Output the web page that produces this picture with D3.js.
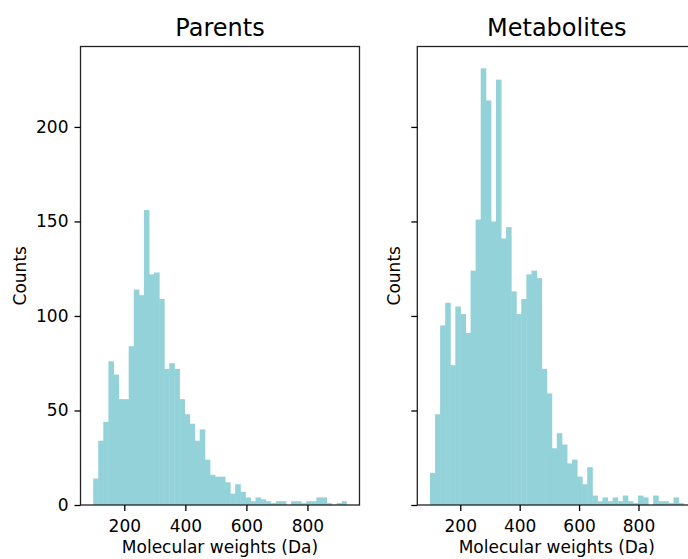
<!DOCTYPE html>
<html lang="en">
	<head>
		<meta charset="utf-8">
		<title>Molecular weight histograms</title>
		<script type="text/javascript" src="https://cdn.jsdelivr.net/npm/d3@7/dist/d3.min.js"></script>
		<style type="text/css">
body {
  margin: 0;
  background: #fff;
}
svg {
  display: block;
  font-family: "DejaVu Sans", sans-serif;
}
.title {
  font-size: 24px;
  fill: #000;
}
.label {
  font-size: 17px;
  fill: #000;
}
.axis text {
  font-family: "DejaVu Sans", sans-serif;
  font-size: 17px;
  fill: #000;
}
.axis line {
  stroke: #000;
  stroke-width: 1.3;
}
.axis path {
  display: none;
}
.spine {
  fill: none;
  stroke: #222;
  stroke-width: 1.3;
}
.bar {
  fill: #93d2d8;
}
		</style>
	</head>
	<body>
		<script type="text/javascript">

			// histogram counts, 50 equal bins per panel
			var parentCounts = [14, 34, 44, 76, 69, 56, 56, 84, 114, 111,
			                    156, 122, 123, 109, 72, 75, 72, 56, 48, 43,
			                    34, 40, 24, 16, 15, 15, 12, 6, 11, 7,
			                    4, 2, 4, 3, 2, 1, 2, 2, 0, 2,
			                    2, 1, 2, 2, 4, 4, 1, 0, 1, 2];
			var metaboliteCounts = [17, 48, 95, 107, 74, 105, 101, 91, 124, 151,
			                        231, 214, 150, 225, 141, 147, 113, 101, 109, 122,
			                        124, 120, 72, 59, 30, 38, 32, 22, 24, 15,
			                        11, 20, 5, 2, 4, 2, 4, 2, 5, 2,
			                        1, 5, 4, 0, 5, 2, 2, 1, 4, 1];

			// first and last bin edge of each panel (Da)
			var parentRange = [98, 929];
			var metaboliteRange = [98, 952];

			var panelTitles = ["Parents", "Metabolites"];
			var xTicks = [200, 400, 600, 800];
			var yTicks = [0, 50, 100, 150, 200];

			var width = 688, height = 559;
			var axTop = 46.5, axBottom = 505, axW = 279;
			var axLefts = [80.5, 417.3];

			var svg = d3.select("body")
				.append("svg")
				.attr("width", width)
				.attr("height", height);

			svg.append("rect")
				.attr("width", width)
				.attr("height", height)
				.attr("fill", "#fff");

			// shared y scale, matplotlib style 5% headroom
			var yMax = d3.max(parentCounts.concat(metaboliteCounts)) * 1.05;
			var yScale = d3.scaleLinear()
				.domain([0, yMax])
				.range([axBottom, axTop]);

			function makeBins(counts, range) {
				var step = (range[1] - range[0]) / counts.length;
				return counts.map(function(c, i) {
					return {x0: range[0] + i * step, x1: range[0] + (i + 1) * step, count: c};
				});
			}

			function drawPanel(idx, counts, range) {
				var left = axLefts[idx];
				var span = range[1] - range[0];
				var xScale = d3.scaleLinear()
					.domain([range[0] - 0.05 * span, range[1] + 0.05 * span])
					.range([0, axW]);

				var g = svg.append("g")
					.attr("transform", "translate(" + left + ",0)");

				var bins = makeBins(counts, range);

				// small overlap so neighbouring bars don't leave white seams
				g.selectAll(".bar")
					.data(bins)
					.enter()
					.append("rect")
					.attr("class", "bar")
					.attr("x", function(d) { return xScale(d.x0); })
					.attr("width", function(d, i) {
						return xScale(d.x1) - xScale(d.x0) + (i < bins.length - 1 ? 0.5 : 0);
					})
					.attr("y", function(d) { return yScale(d.count); })
					.attr("height", function(d) { return axBottom - yScale(d.count); });

				// axes box
				g.append("rect")
					.attr("class", "spine")
					.attr("x", 0)
					.attr("y", axTop)
					.attr("width", axW)
					.attr("height", axBottom - axTop);

				g.append("g")
					.attr("class", "x axis")
					.attr("transform", "translate(0," + axBottom + ")")
					.call(d3.axisBottom(xScale)
						.tickValues(xTicks)
						.tickSize(6)
						.tickPadding(9)
						.tickFormat(d3.format("d")));

				var yAxis = d3.axisLeft(yScale)
					.tickValues(yTicks)
					.tickSize(6)
					.tickPadding(6);
				if (idx > 0) yAxis.tickFormat(""); // shared y, labels only on the first panel

				g.append("g")
					.attr("class", "y axis")
					.call(yAxis);

				g.append("text")
					.attr("class", "title")
					.attr("x", axW / 2)
					.attr("y", axTop - 11)
					.attr("text-anchor", "middle")
					.text(panelTitles[idx]);

				g.append("text")
					.attr("class", "label")
					.attr("x", axW / 2)
					.attr("y", 553)
					.attr("text-anchor", "middle")
					.text("Molecular weights (Da)");

				var ylabX = idx == 0 ? 25.5 - left : 400 - left;
				g.append("text")
					.attr("class", "label")
					.attr("transform", "translate(" + ylabX + "," + ((axTop + axBottom) / 2) + ") rotate(-90)")
					.attr("text-anchor", "middle")
					.text("Counts");
			}

			drawPanel(0, parentCounts, parentRange);
			drawPanel(1, metaboliteCounts, metaboliteRange);
		</script>
	</body>
</html>
